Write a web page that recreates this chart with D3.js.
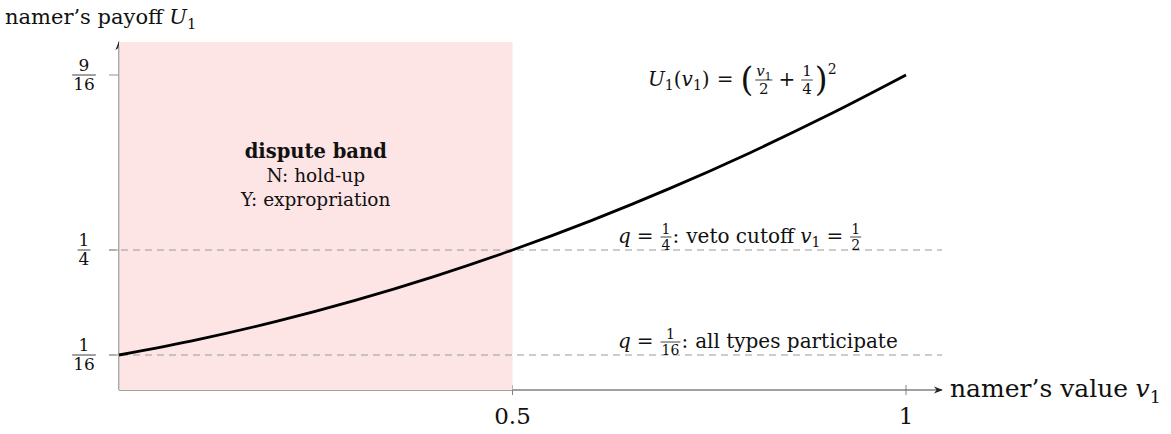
<!DOCTYPE html>
<html lang="en">
<head>
<meta charset="UTF-8">
<title>Namer's payoff</title>
<script src="https://d3js.org/d3.v7.min.js"></script>
<style>
  body { margin: 0; padding: 0; background: #fff; }
  text { font-family: "DejaVu Serif", "Liberation Serif", serif; fill: #111; white-space: pre; }
</style>
</head>
<body>
<div id="chart"></div>
<script>
// values
const xTicks = [0.5, 1];
const yTicks = [1 / 16, 1 / 4, 9 / 16];
const yTickLabels = [["1", "16"], ["1", "4"], ["9", "16"]];
const bandRange = [0, 0.5];
const cutoffs = [1 / 4, 1 / 16];
// sampled points of U1(v1) = (v1/2 + 1/4)^2
const curveV = [0, 0.1, 0.2, 0.3, 0.4, 0.5, 0.6, 0.7, 0.8, 0.9, 1];
const curveU = [0.0625, 0.09, 0.1225, 0.16, 0.2025, 0.25, 0.3025, 0.36, 0.4225, 0.49, 0.5625];

const W = 1171, H = 434;
const svg = d3.select("#chart").append("svg")
    .attr("width", W).attr("height", H);

const x = d3.scaleLinear().domain([0, 1]).range([119, 906]);
const y = d3.scaleLinear().domain([0, 9 / 16]).range([390, 75]);
const topY = 42, axisEnd = 942;

// arrowhead
svg.append("defs").append("marker")
    .attr("id", "arr").attr("viewBox", "0 0 10 10")
    .attr("refX", 9).attr("refY", 5)
    .attr("markerWidth", 9).attr("markerHeight", 9)
    .attr("markerUnits", "userSpaceOnUse")
    .attr("orient", "auto")
  .append("path").attr("d", "M0,1 L10,5 L0,9 L3,5 Z").attr("fill", "#222");

// x axis
svg.append("line")
    .attr("x1", x(0)).attr("x2", axisEnd)
    .attr("y1", y(0)).attr("y2", y(0))
    .attr("stroke", "#444").attr("stroke-width", 1.2)
    .attr("marker-end", "url(#arr)");
svg.selectAll(".xtick").data(xTicks).join("line")
    .attr("x1", d => x(d)).attr("x2", d => x(d))
    .attr("y1", y(0) - 5).attr("y2", y(0) + 5)
    .attr("stroke", "#666").attr("stroke-width", 0.8);

// y axis
svg.append("line")
    .attr("x1", x(0)).attr("x2", x(0))
    .attr("y1", y(0)).attr("y2", topY)
    .attr("stroke", "#333").attr("stroke-width", 1.2)
    .attr("marker-end", "url(#arr)");
svg.selectAll(".ytick").data(yTicks).join("line")
    .attr("x1", x(0) - 10).attr("x2", x(0))
    .attr("y1", d => y(d)).attr("y2", d => y(d))
    .attr("stroke", "#777").attr("stroke-width", 0.8);

// dispute band
svg.append("rect")
    .attr("x", x(bandRange[0])).attr("y", topY)
    .attr("width", x(bandRange[1]) - x(bandRange[0]))
    .attr("height", y(0) - topY)
    .attr("fill", "#fde4e5");
svg.append("line")
    .attr("x1", x(0)).attr("x2", x(0))
    .attr("y1", y(0)).attr("y2", topY + 4)
    .attr("stroke", "#c4c0c0").attr("stroke-width", 1.2);

// dashed cutoff lines
svg.selectAll(".cut").data(cutoffs).join("line")
    .attr("x1", x(0) - 10).attr("x2", axisEnd)
    .attr("y1", d => y(d)).attr("y2", d => y(d))
    .attr("stroke", "#999").attr("stroke-width", 1)
    .attr("stroke-dasharray", "7,5");

// curve
const pts = curveV.map((v, i) => [x(v), y(curveU[i])]);
svg.append("path")
    .attr("d", d3.line().curve(d3.curveCatmullRom)(pts))
    .attr("fill", "none").attr("stroke", "#000").attr("stroke-width", 2.8);

// tiny math layout: items laid out left to right, returns total width
function mathRow(g, items, size) {
  let cx = 0;
  items.forEach(it => {
    if (it.gap !== undefined) { cx += it.gap * size; return; }
    if (it.frac) {
      const fs = it.size || size * 0.7;
      const gn = g.append("g"), gd = g.append("g");
      const wn = mathRow(gn, it.frac[0], fs), wd = mathRow(gd, it.frac[1], fs);
      const w = Math.max(wn, wd) + 2;
      const bar = -size * 0.3;
      gn.attr("transform", `translate(${cx + 1 + (w - wn) / 2},${bar - fs * 0.25})`);
      gd.attr("transform", `translate(${cx + 1 + (w - wd) / 2},${bar + fs * 0.9})`);
      g.append("line").attr("x1", cx + 1).attr("x2", cx + 1 + w)
          .attr("y1", bar).attr("y2", bar).attr("stroke", "#111").attr("stroke-width", 0.8);
      cx += w + 2;
      return;
    }
    let fs = it.size || size, dy = it.dy || 0;
    if (it.sub) { fs = size * 0.7; dy = size * 0.22; }
    if (it.sup) { fs = size * 0.7; dy = -size * 0.6; }
    const t = g.append("text").attr("x", cx).attr("y", dy)
        .attr("font-size", fs).text(it.t);
    if (it.it) t.attr("font-style", "italic");
    if (it.bold) t.attr("font-weight", "bold");
    cx += t.node().getComputedTextLength();
  });
  return cx;
}
function mathAt(x0, yb, items, size) {
  const g = svg.append("g").attr("transform", `translate(${x0},${yb})`);
  return mathRow(g, items, size);
}

// y tick labels
yTicks.forEach((t, i) => {
  const g = svg.append("g");
  const w = mathRow(g, [{frac: [[{t: yTickLabels[i][0]}], [{t: yTickLabels[i][1]}]], size: 17}], 17);
  g.attr("transform", `translate(${84 - w / 2},${y(t) + 17 * 0.3})`);
});

// x tick labels
svg.selectAll(".xlab").data(xTicks).join("text")
    .attr("x", d => x(d)).attr("y", 424)
    .attr("text-anchor", "middle").attr("font-size", 23)
    .text(d => d === 1 ? "1" : d3.format(".1f")(d));

// axis titles
mathAt(5, 24, [{t: "namer\u2019s payoff"}, {gap: 0.3}, {t: "U", it: true}, {t: "1", sub: true}], 21);
mathAt(950, 397, [{t: "namer\u2019s value"}, {gap: 0.3}, {t: "v", it: true}, {t: "1", sub: true}], 25);

// band labels
const bx = (x(bandRange[0]) + x(bandRange[1])) / 2;
svg.append("text").attr("x", bx).attr("y", 158).attr("text-anchor", "middle")
    .attr("font-size", 19.5).attr("font-weight", "bold").text("dispute band");
svg.append("text").attr("x", bx).attr("y", 182).attr("text-anchor", "middle")
    .attr("font-size", 18.5).text("N: hold-up");
svg.append("text").attr("x", bx).attr("y", 206).attr("text-anchor", "middle")
    .attr("font-size", 18.5).text("Y: expropriation");

// formula U1(v1) = (v1/2 + 1/4)^2
const v1 = [{t: "v", it: true}, {t: "1", sub: true}];
mathAt(648, 86, [
  {t: "U", it: true}, {t: "1", sub: true}, {t: "("}, ...v1, {t: ")"},
  {gap: 0.35}, {t: "="}, {gap: 0.35},
  {t: "(", size: 33, dy: 5}, {gap: 0.05},
  {frac: [v1, [{t: "2"}]], size: 15},
  {gap: 0.25}, {t: "+"}, {gap: 0.25},
  {frac: [[{t: "1"}], [{t: "4"}]], size: 15},
  {gap: 0.05}, {t: ")", size: 33, dy: 5},
  {t: "2", sup: true}
], 20);

// cutoff labels
mathAt(618, 243, [
  {t: "q", it: true}, {gap: 0.3}, {t: "="}, {gap: 0.3},
  {frac: [[{t: "1"}], [{t: "4"}]], size: 14},
  {t: ":"}, {gap: 0.35}, {t: "veto cutoff"}, {gap: 0.3}, ...v1,
  {gap: 0.3}, {t: "="}, {gap: 0.3},
  {frac: [[{t: "1"}], [{t: "2"}]], size: 14}
], 20);
mathAt(618, 348, [
  {t: "q", it: true}, {gap: 0.3}, {t: "="}, {gap: 0.3},
  {frac: [[{t: "1"}], [{t: "16"}]], size: 14},
  {t: ":"}, {gap: 0.35}, {t: "all types participate"}
], 20);
</script>
</body>
</html>
